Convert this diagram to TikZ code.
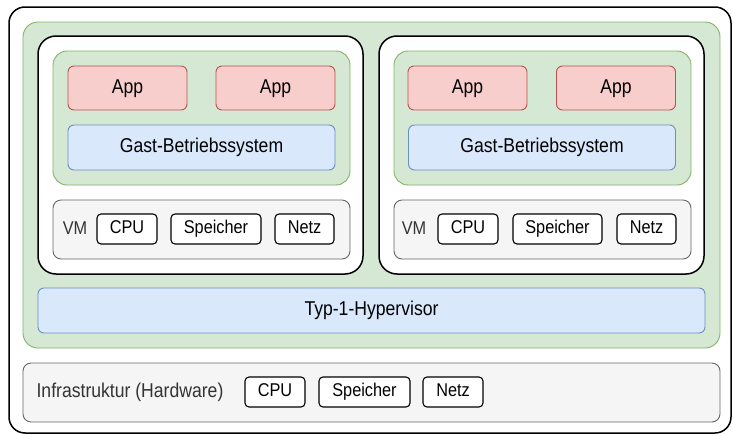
\documentclass[tikz,border=0pt]{standalone}
\usepackage{fontspec}
\setmainfont[FakeStretch=0.88]{Liberation Sans}
\definecolor{gruenfill}{HTML}{D5E8D4}
\definecolor{gruenline}{HTML}{82B366}
\definecolor{rotfill}{HTML}{F8CECC}
\definecolor{rotline}{HTML}{B85450}
\definecolor{blaufill}{HTML}{DAE8FC}
\definecolor{blauline}{HTML}{6C8EBF}
\definecolor{graufill}{HTML}{F5F5F5}
\definecolor{grauline}{HTML}{666666}
\definecolor{grautext}{HTML}{333333}

\begin{document}
\begin{tikzpicture}[x=1pt, y=-1pt,
    every node/.style={inner sep=0pt, text height=14pt, text depth=4pt, font=\fontsize{20}{24}\selectfont},
    kiste/.style={draw, rounded corners=6pt, line width=0.9pt},
    schwarz/.style={kiste, draw=black, fill=white, line width=1.5pt, rounded corners=16pt},
    gruen/.style={kiste, draw=gruenline, fill=gruenfill, rounded corners=15pt},
    app/.style={kiste, draw=rotline, fill=rotfill, minimum width=119pt, minimum height=44pt},
    blau/.style={kiste, draw=blauline, fill=blaufill},
    grau/.style={kiste, draw=grauline, fill=graufill, rounded corners=8pt},
    teil/.style={kiste, draw=black, fill=white, line width=1.1pt, rounded corners=4pt,
        minimum height=30pt, text height=13pt, font=\fontsize{18.5}{22}\selectfont},
    etikett/.style={text=grautext}]
    \useasboundingbox (0,0) rectangle (732,434);

    % Rahmen und Hypervisor-Ebene
    \node[schwarz, minimum width=722pt, minimum height=426pt] (rahmen) at (370,220) {};
    \node[gruen, minimum width=697pt, minimum height=326pt] (ebene) at (371.5,185) {};

    % linke VM
    \node[schwarz, rounded corners=18pt, minimum width=325pt, minimum height=238pt] (vmL) at (200.5,155) {};
    \node[gruen, rounded corners=14pt, minimum width=297pt, minimum height=134pt] (gastL) at (201.5,118) {};
    \node[app] (appLa) at (127.5,88) {App};
    \node[app] (appLb) at (275.5,88) {App};
    \node[blau, minimum width=267pt, minimum height=45pt] (osL) at (201.5,147.5) {Gast-Betriebssystem};
    \node[grau, minimum width=297pt, minimum height=59pt] (vhwL) at (201.5,229.5) {};
    \node[etikett, font=\fontsize{18.5}{22}\selectfont] (vmtxtL) at (75,229.5) {VM};
    \node[teil, minimum width=60pt] (cpuL) at (127,229) {CPU};
    \node[teil, minimum width=90pt] (speicherL) at (216,229) {Speicher};
    \node[teil, minimum width=59pt] (netzL) at (304.5,229) {Netz};

    % rechte VM
    \node[schwarz, rounded corners=18pt, minimum width=325pt, minimum height=238pt] (vmR) at (541.5,155) {};
    \node[gruen, rounded corners=14pt, minimum width=297pt, minimum height=134pt] (gastR) at (542.5,118) {};
    \node[app] (appRa) at (467.5,88) {App};
    \node[app] (appRb) at (616,88) {App};
    \node[blau, minimum width=267pt, minimum height=45pt] (osR) at (542,147.5) {Gast-Betriebssystem};
    \node[grau, minimum width=297pt, minimum height=59pt] (vhwR) at (542.5,229.5) {};
    \node[etikett, font=\fontsize{18.5}{22}\selectfont] (vmtxtR) at (414,229.5) {VM};
    \node[teil, minimum width=60pt] (cpuR) at (468,229) {CPU};
    \node[teil, minimum width=89pt] (speicherR) at (557.5,229) {Speicher};
    \node[teil, minimum width=59pt] (netzR) at (646.5,229) {Netz};

    % Hypervisor und Hardware
    \node[blau, minimum width=667pt, minimum height=45pt] (hyper) at (371.5,310.5) {Typ-1-Hypervisor};
    \node[grau, minimum width=697pt, minimum height=59pt] (infra) at (371.5,392.5) {};
    \node[etikett] (infratxt) at (130,392) {Infrastruktur (Hardware)};
    \node[teil, minimum width=60pt] (cpuH) at (275,392) {CPU};
    \node[teil, minimum width=91pt] (speicherH) at (364.5,392) {Speicher};
    \node[teil, minimum width=60pt] (netzH) at (453,392) {Netz};
\end{tikzpicture}
\end{document}
